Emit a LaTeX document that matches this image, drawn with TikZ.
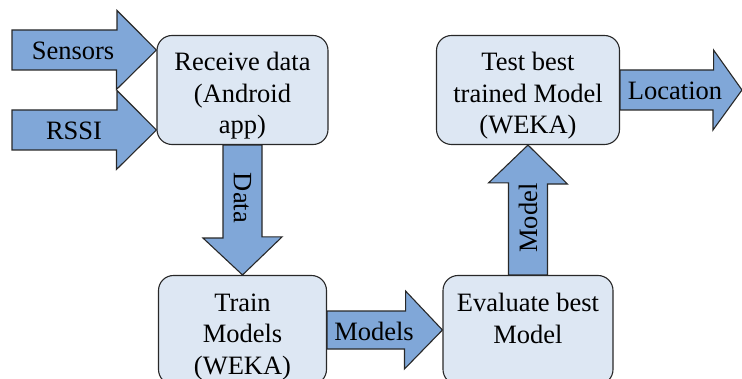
\documentclass[tikz,border=0pt]{standalone}
\usepackage{fontspec}
\setmainfont{Liberation Serif}
\newfontfamily\stagefont{Liberation Serif}
\usetikzlibrary{calc}

\definecolor{boxfill}{RGB}{221,231,243}
\definecolor{arrowfill}{RGB}{128,167,216}
\definecolor{edgegray}{RGB}{40,40,40}

\tikzset{
	stage/.style={draw=edgegray, line width=1.1pt, fill=boxfill, rounded corners=15pt, align=center, inner sep=0pt, minimum height=109pt, text height=88pt, text depth=0pt, font=\stagefont\fontsize{26.5}{31.5}\selectfont},
	flow/.style={draw=edgegray, line width=1.1pt, fill=arrowfill, line join=miter},
	flowtext/.style={inner sep=0pt, font=\stagefont\fontsize{26.5}{31.5}\selectfont}
}

\begin{document}
\begin{tikzpicture}[x=1pt,y=1pt]
\useasboundingbox (0,0) rectangle (742,378);
\clip (0,0) rectangle (742,378);
% stages
\node[stage, minimum width=171pt] (recv) at (242.5,288) {Receive data\\(Android\\app)};
\node[stage, minimum width=168pt] (train) at (242.5,48) {Train\\Models\\(WEKA)};
\node[stage, minimum width=170pt, text height=50pt, text depth=24pt] (eval) at (528,48) {Evaluate best\\Model};
\node[stage, minimum width=183pt] (test) at (528,288) {Test best\\trained Model\\(WEKA)};
\coordinate (sensTail) at (12,328);
\coordinate (rssiTail) at (12,248);
\coordinate (locTip) at (742,288);
% block arrows
\draw[flow] ([yshift=20pt]sensTail) -- ++(105,0) -- ++(0,19.5) -- ([yshift=40pt]recv.west) -- ++(-40,-39.5) -- ++(0,19.5) -- ([yshift=-20pt]sensTail) -- cycle;
\draw[flow] ([yshift=20pt]rssiTail) -- ++(105,0) -- ++(0,19.5) -- ([yshift=-40pt]recv.west) -- ++(-40,-39.5) -- ++(0,19.5) -- ([yshift=-20pt]rssiTail) -- cycle;
\draw[flow] ([xshift=-19.5pt]recv.south) -- ++(0,-93) -- ++(-20,0) -- (train.north) -- ++(39.5,38) -- ++(-20,0) -- ([xshift=19.5pt]recv.south) -- cycle;
\draw[flow] ([yshift=19pt]train.east) -- ++(78.5,0) -- ++(0,20) -- (eval.west) -- ++(-38,-39) -- ++(0,20) -- ([yshift=-19pt]train.east) -- cycle;
\draw[flow] ([xshift=-19.5pt]eval.north) -- ++(0,92) -- ++(-20,0) -- (test.south) -- ++(39.5,-39) -- ++(-20,0) -- ([xshift=19.5pt]eval.north) -- cycle;
\draw[flow] ([yshift=20pt]test.east) -- ++(93.5,0) -- ++(0,20) -- (locTip) -- ++(-29,-40) -- ++(0,20) -- ([yshift=-20pt]test.east) -- cycle;
% arrow labels
\node[flowtext] (sensLbl) at (73,327) {Sensors};
\node[flowtext] (rssiLbl) at (74,247) {RSSI};
\node[flowtext, rotate=-90] (dataLbl) at (242.5,180) {Data};
\node[flowtext] (modelsLbl) at (374,47) {Models};
\node[flowtext, rotate=90] (modelLbl) at (528,160) {Model};
\node[flowtext] (locLbl) at (675,287) {Location};
\end{tikzpicture}
\end{document}
